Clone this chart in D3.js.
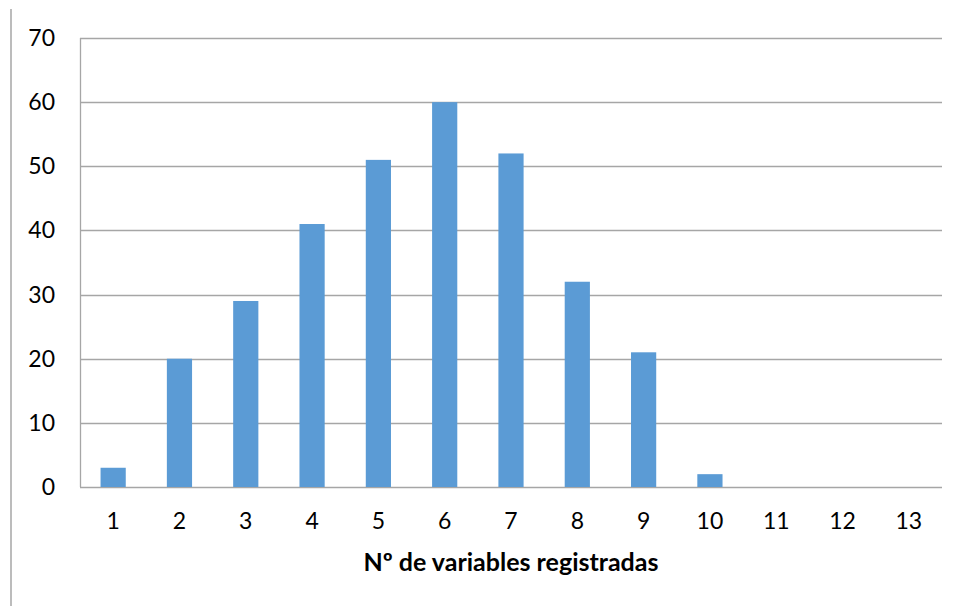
<!DOCTYPE html>
<html><head><meta charset="utf-8">
<script src="https://cdn.jsdelivr.net/npm/d3@7"></script>
<style>body{margin:0;background:#fff}svg{display:block}</style>
</head><body>
<script>
const categories = ["1","2","3","4","5","6","7","8","9","10","11","12","13"];
const values = [3,20,29,41,51,60,52,32,21,2,0,0,0];
const yTicks = [0,10,20,30,40,50,60,70];
const xTitle = "Nº de variables registradas";

const W = 958, H = 606;
const m = {l:80, r:16, t:38, b:119};
const svg = d3.select("body").append("svg").attr("width",W).attr("height",H);
const font = "Lato, 'Liberation Sans', sans-serif";

svg.append("line").attr("x1",11).attr("x2",11).attr("y1",9).attr("y2",H).attr("stroke","#a6a6a6").attr("stroke-width",1.5);

const x = d3.scaleBand().domain(categories).range([m.l, W-m.r]).paddingInner(0.62).paddingOuter(0.31);
const y = d3.scaleLinear().domain([0,70]).range([H-m.b, m.t]);

const g = svg.append("g");
g.selectAll("line.grid").data(yTicks).join("line")
  .attr("x1",m.l).attr("x2",W-m.r)
  .attr("y1",d=>Math.round(y(d))+0.5).attr("y2",d=>Math.round(y(d))+0.5)
  .attr("stroke","#a6a6a6").attr("stroke-width",1.3);
g.append("line").attr("x1",m.l+0.5).attr("x2",m.l+0.5).attr("y1",m.t).attr("y2",y(0))
  .attr("stroke","#a6a6a6").attr("stroke-width",1.3);

g.selectAll("rect").data(values).join("rect")
  .attr("x",(d,i)=>x(categories[i])).attr("width",x.bandwidth())
  .attr("y",d=>y(d)).attr("height",d=>y(0)-y(d)).attr("fill","#5b9bd5");

g.selectAll("text.yt").data(yTicks).join("text")
  .attr("x",55).attr("y",d=>y(d)).attr("dy","0.35em").attr("text-anchor","end")
  .attr("font-family",font).attr("font-size",23).attr("fill","#000").text(d=>d);

g.selectAll("text.xt").data(categories).join("text")
  .attr("x",d=>x(d)+x.bandwidth()/2).attr("y",521).attr("dy","0.35em").attr("text-anchor","middle")
  .attr("font-family",font).attr("font-size",23).attr("fill","#000").text(d=>d);

svg.append("text").attr("x",(m.l+W-m.r)/2).attr("y",562).attr("dy","0.35em").attr("text-anchor","middle")
  .attr("font-family",font).attr("font-size",25).attr("font-weight","bold").attr("fill","#000").text(xTitle);
</script>
</body></html>
